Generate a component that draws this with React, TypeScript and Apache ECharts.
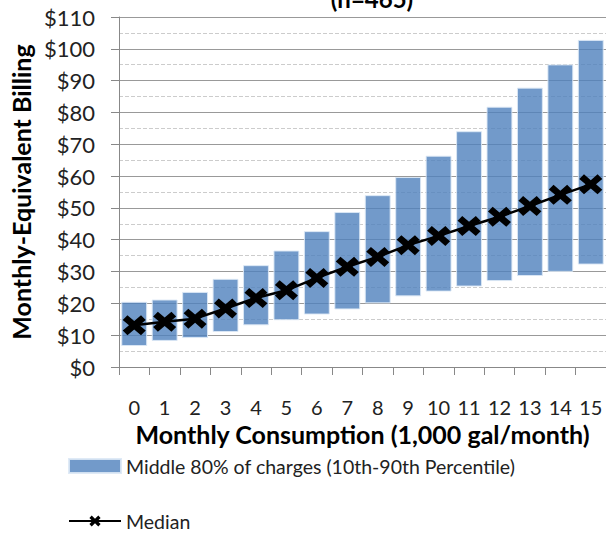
import React, { useEffect, useRef } from "react";
import * as echarts from "echarts";

const categories = ["0", "1", "2", "3", "4", "5", "6", "7", "8", "9", "10", "11", "12", "13", "14", "15"];
const p10 = [6.6, 8.2, 9.1, 11.0, 13.1, 14.7, 16.5, 18.1, 20.0, 22.2, 23.7, 25.3, 27.0, 28.6, 29.9, 32.2];
const p90 = [20.5, 21.2, 23.6, 27.7, 32.0, 36.6, 42.7, 48.7, 54.0, 59.7, 66.4, 74.1, 81.8, 87.8, 95.1, 102.8];
const median = [13.1, 14.2, 15.2, 18.4, 21.7, 24.1, 28.0, 31.5, 34.6, 38.3, 41.2, 44.3, 47.2, 50.6, 54.1, 57.4];

const rangeName = "Middle 80% of charges (10th-90th Percentile)";
const medianName = "Median";
const titleText = "(n=465)";

const X_SYMBOL =
  "path://M0,4.5 L4.5,0 L11,5.5 L17.5,0 L22,4.5 L16,9.5 L22,14.5 L17.5,19 L11,13.5 L4.5,19 L0,14.5 L6,9.5 Z";

const FONT = "Lato, 'Open Sans', sans-serif";

export default function App() {
  const ref = useRef<HTMLDivElement>(null);

  useEffect(() => {
    if (!ref.current) return;
    const chart = echarts.init(ref.current, undefined, { renderer: "svg" });
    const span = p90.map((v, i) => +(v - p10[i]).toFixed(2));

    const legendText = { fontSize: 19.5, color: "#222", fontFamily: FONT };

    chart.setOption({
      animation: false,
      textStyle: { fontFamily: FONT },
      grid: { left: 119, right: 0, top: 17, bottom: 167, containLabel: false },
      graphic: [
        {
          type: "text",
          x: 372,
          y: 10,
          style: {
            text: titleText,
            font: `bold 24px ${FONT}`,
            fill: "#000",
            align: "center",
            verticalAlign: "bottom",
          },
        },
      ],
      legend: [
        {
          left: 68,
          top: 456,
          padding: 0,
          itemGap: 10,
          itemWidth: 52,
          itemHeight: 14,
          textStyle: legendText,
          selectedMode: false,
          data: [{ name: rangeName, icon: "rect" }],
        },
        {
          left: 68,
          top: 511,
          padding: 0,
          itemWidth: 52,
          itemHeight: 14,
          textStyle: legendText,
          selectedMode: false,
          data: [{ name: medianName }],
        },
      ],
      xAxis: {
        type: "category",
        data: categories,
        boundaryGap: true,
        axisLine: { lineStyle: { color: "#888", width: 1 } },
        axisTick: { show: true, length: 8, inside: false, lineStyle: { color: "#888" } },
        axisLabel: { fontSize: 20, color: "#222", margin: 30, interval: 0, fontFamily: FONT },
        name: "Monthly Consumption (1,000 gal/month)",
        nameLocation: "middle",
        nameGap: 52,
        nameTextStyle: { fontSize: 25, fontWeight: "bold", color: "#000", fontFamily: FONT },
      },
      yAxis: {
        type: "value",
        min: 0,
        max: 110,
        interval: 10,
        axisLine: { show: true, lineStyle: { color: "#888", width: 1 } },
        axisTick: { show: true, length: 8, lineStyle: { color: "#888" } },
        axisLabel: {
          fontSize: 22,
          color: "#222",
          margin: 24,
          fontFamily: FONT,
          formatter: (v: number) => "$" + v,
        },
        splitLine: { show: true, lineStyle: { color: "#999", width: 1 } },
        minorTick: { show: false, splitNumber: 2 },
        minorSplitLine: { show: true, lineStyle: { color: "#ccc", type: "dashed", width: 1 } },
        name: "Monthly-Equivalent Billing",
        nameLocation: "middle",
        nameGap: 85,
        nameTextStyle: { fontSize: 25, fontWeight: "bold", color: "#000", fontFamily: FONT },
      },
      series: [
        {
          name: "base",
          type: "bar",
          stack: "range",
          data: p10,
          silent: true,
          barCategoryGap: "15%",
          itemStyle: { color: "rgba(0,0,0,0)" },
        },
        {
          name: rangeName,
          type: "bar",
          stack: "range",
          data: span,
          barCategoryGap: "15%",
          itemStyle: {
            color: "rgba(79,129,189,0.8)",
            borderColor: "rgba(220,232,245,0.9)",
            borderWidth: 1,
          },
        },
        {
          name: medianName,
          type: "line",
          data: median,
          z: 5,
          symbol: X_SYMBOL,
          symbolSize: [23, 20],
          color: "#000",
          itemStyle: { color: "#000" },
          lineStyle: { color: "#000", width: 2.5 },
        },
      ],
    });

    return () => chart.dispose();
  }, []);

  return (
    <div
      ref={ref}
      style={{ position: "fixed", left: 0, top: 0, width: 606, height: 534, background: "#fff" }}
    />
  );
}
